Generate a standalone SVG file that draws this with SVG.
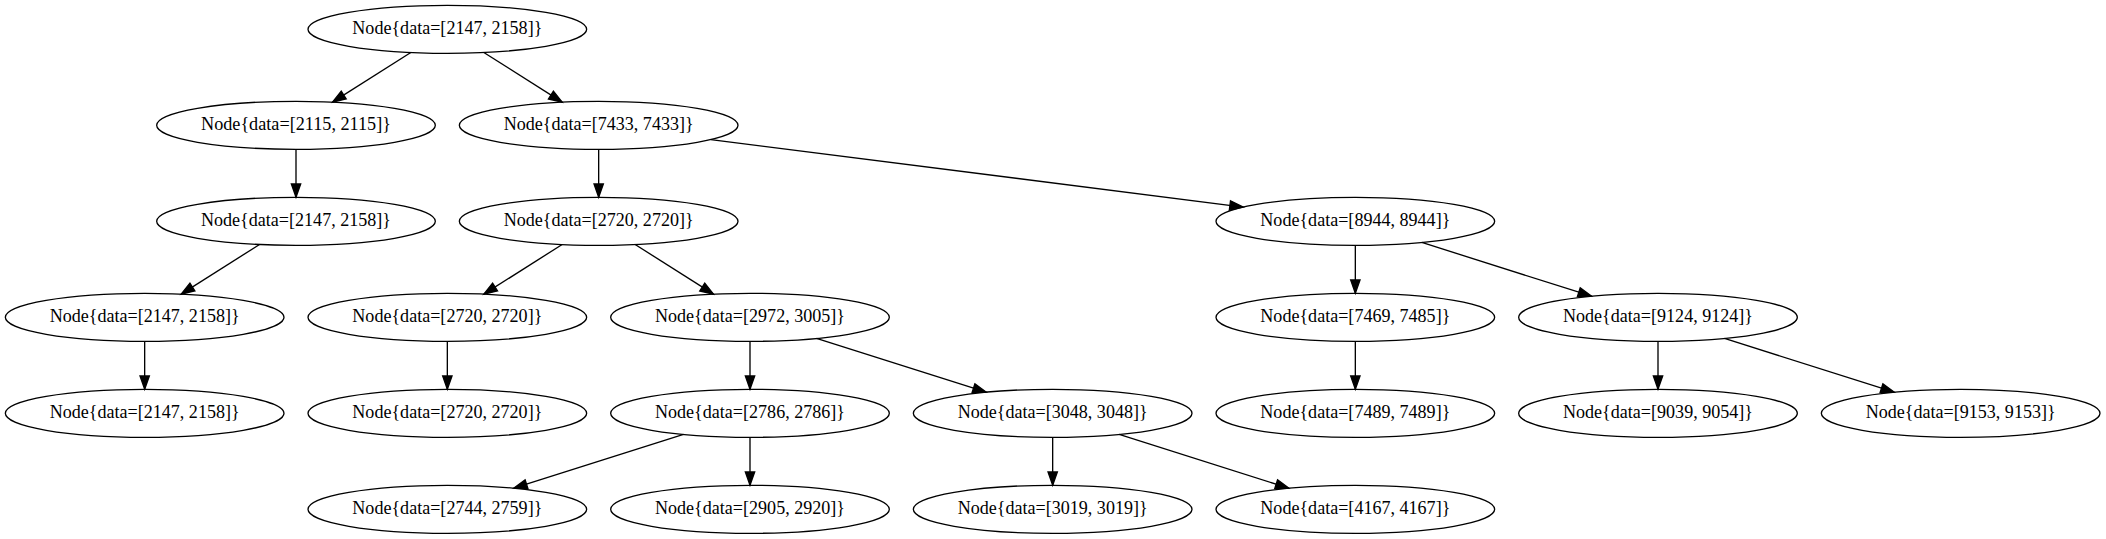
<svg xmlns="http://www.w3.org/2000/svg" width="2106" height="539" viewBox="0 0 2106 539">
<style>
.n ellipse{fill:none;stroke:#000;stroke-width:1.33}
.n text{font-family:"Liberation Serif","Times New Roman",serif;font-size:18.67px;text-anchor:middle;fill:#000}
#edges line{stroke:#000;stroke-width:1.33;marker-end:url(#ah)}
</style>
<defs>
<marker id="ah" markerUnits="userSpaceOnUse" markerWidth="16" markerHeight="12" refX="13.33" refY="4.67" orient="auto" overflow="visible">
<path d="M0,0 L13.33,4.67 L0,9.33 Z" fill="#000" stroke="#000" stroke-width="1.33"/>
</marker>
</defs>
<rect width="2106" height="539" fill="#fff"/>
<g id="edges">
<line x1="410.82" y1="52.49" x2="332.51" y2="102.17"/>
<line x1="483.84" y1="52.49" x2="562.16" y2="102.17"/>
<line x1="296" y1="149.33" x2="296" y2="197.33"/>
<line x1="598.67" y1="149.33" x2="598.67" y2="197.33"/>
<line x1="710.85" y1="139.56" x2="1243.15" y2="207.1"/>
<line x1="259.49" y1="244.49" x2="181.18" y2="294.17"/>
<line x1="562.16" y1="244.49" x2="483.84" y2="294.17"/>
<line x1="635.18" y1="244.49" x2="713.49" y2="294.17"/>
<line x1="1355.33" y1="245.33" x2="1355.33" y2="293.33"/>
<line x1="1421.82" y1="242.42" x2="1591.51" y2="296.24"/>
<line x1="144.67" y1="341.33" x2="144.67" y2="389.33"/>
<line x1="447.33" y1="341.33" x2="447.33" y2="389.33"/>
<line x1="750" y1="341.33" x2="750" y2="389.33"/>
<line x1="816.49" y1="338.42" x2="986.18" y2="392.24"/>
<line x1="1355.33" y1="341.33" x2="1355.33" y2="389.33"/>
<line x1="1658" y1="341.33" x2="1658" y2="389.33"/>
<line x1="1724.49" y1="338.42" x2="1894.18" y2="392.24"/>
<line x1="683.51" y1="434.42" x2="513.82" y2="488.24"/>
<line x1="750" y1="437.33" x2="750" y2="485.33"/>
<line x1="1052.67" y1="437.33" x2="1052.67" y2="485.33"/>
<line x1="1119.16" y1="434.42" x2="1288.85" y2="488.24"/>
</g>
<g id="n0" class="n"><ellipse cx="447.33" cy="29.33" rx="139.33" ry="24"/><text x="447.33" y="34.4" textLength="190" lengthAdjust="spacingAndGlyphs">Node{data=[2147, 2158]}</text></g>
<g id="n1" class="n"><ellipse cx="296" cy="125.33" rx="139.33" ry="24"/><text x="296" y="130.4" textLength="190" lengthAdjust="spacingAndGlyphs">Node{data=[2115, 2115]}</text></g>
<g id="n2" class="n"><ellipse cx="598.67" cy="125.33" rx="139.33" ry="24"/><text x="598.67" y="130.4" textLength="190" lengthAdjust="spacingAndGlyphs">Node{data=[7433, 7433]}</text></g>
<g id="n3" class="n"><ellipse cx="296" cy="221.33" rx="139.33" ry="24"/><text x="296" y="226.4" textLength="190" lengthAdjust="spacingAndGlyphs">Node{data=[2147, 2158]}</text></g>
<g id="n4" class="n"><ellipse cx="598.67" cy="221.33" rx="139.33" ry="24"/><text x="598.67" y="226.4" textLength="190" lengthAdjust="spacingAndGlyphs">Node{data=[2720, 2720]}</text></g>
<g id="n5" class="n"><ellipse cx="1355.33" cy="221.33" rx="139.33" ry="24"/><text x="1355.33" y="226.4" textLength="190" lengthAdjust="spacingAndGlyphs">Node{data=[8944, 8944]}</text></g>
<g id="n6" class="n"><ellipse cx="144.67" cy="317.33" rx="139.33" ry="24"/><text x="144.67" y="322.4" textLength="190" lengthAdjust="spacingAndGlyphs">Node{data=[2147, 2158]}</text></g>
<g id="n7" class="n"><ellipse cx="447.33" cy="317.33" rx="139.33" ry="24"/><text x="447.33" y="322.4" textLength="190" lengthAdjust="spacingAndGlyphs">Node{data=[2720, 2720]}</text></g>
<g id="n8" class="n"><ellipse cx="750" cy="317.33" rx="139.33" ry="24"/><text x="750" y="322.4" textLength="190" lengthAdjust="spacingAndGlyphs">Node{data=[2972, 3005]}</text></g>
<g id="n9" class="n"><ellipse cx="1355.33" cy="317.33" rx="139.33" ry="24"/><text x="1355.33" y="322.4" textLength="190" lengthAdjust="spacingAndGlyphs">Node{data=[7469, 7485]}</text></g>
<g id="n10" class="n"><ellipse cx="1658" cy="317.33" rx="139.33" ry="24"/><text x="1658" y="322.4" textLength="190" lengthAdjust="spacingAndGlyphs">Node{data=[9124, 9124]}</text></g>
<g id="n11" class="n"><ellipse cx="144.67" cy="413.33" rx="139.33" ry="24"/><text x="144.67" y="418.4" textLength="190" lengthAdjust="spacingAndGlyphs">Node{data=[2147, 2158]}</text></g>
<g id="n12" class="n"><ellipse cx="447.33" cy="413.33" rx="139.33" ry="24"/><text x="447.33" y="418.4" textLength="190" lengthAdjust="spacingAndGlyphs">Node{data=[2720, 2720]}</text></g>
<g id="n13" class="n"><ellipse cx="750" cy="413.33" rx="139.33" ry="24"/><text x="750" y="418.4" textLength="190" lengthAdjust="spacingAndGlyphs">Node{data=[2786, 2786]}</text></g>
<g id="n14" class="n"><ellipse cx="1052.67" cy="413.33" rx="139.33" ry="24"/><text x="1052.67" y="418.4" textLength="190" lengthAdjust="spacingAndGlyphs">Node{data=[3048, 3048]}</text></g>
<g id="n15" class="n"><ellipse cx="1355.33" cy="413.33" rx="139.33" ry="24"/><text x="1355.33" y="418.4" textLength="190" lengthAdjust="spacingAndGlyphs">Node{data=[7489, 7489]}</text></g>
<g id="n16" class="n"><ellipse cx="1658" cy="413.33" rx="139.33" ry="24"/><text x="1658" y="418.4" textLength="190" lengthAdjust="spacingAndGlyphs">Node{data=[9039, 9054]}</text></g>
<g id="n17" class="n"><ellipse cx="1960.67" cy="413.33" rx="139.33" ry="24"/><text x="1960.67" y="418.4" textLength="190" lengthAdjust="spacingAndGlyphs">Node{data=[9153, 9153]}</text></g>
<g id="n18" class="n"><ellipse cx="447.33" cy="509.33" rx="139.33" ry="24"/><text x="447.33" y="514.4" textLength="190" lengthAdjust="spacingAndGlyphs">Node{data=[2744, 2759]}</text></g>
<g id="n19" class="n"><ellipse cx="750" cy="509.33" rx="139.33" ry="24"/><text x="750" y="514.4" textLength="190" lengthAdjust="spacingAndGlyphs">Node{data=[2905, 2920]}</text></g>
<g id="n20" class="n"><ellipse cx="1052.67" cy="509.33" rx="139.33" ry="24"/><text x="1052.67" y="514.4" textLength="190" lengthAdjust="spacingAndGlyphs">Node{data=[3019, 3019]}</text></g>
<g id="n21" class="n"><ellipse cx="1355.33" cy="509.33" rx="139.33" ry="24"/><text x="1355.33" y="514.4" textLength="190" lengthAdjust="spacingAndGlyphs">Node{data=[4167, 4167]}</text></g>
</svg>
